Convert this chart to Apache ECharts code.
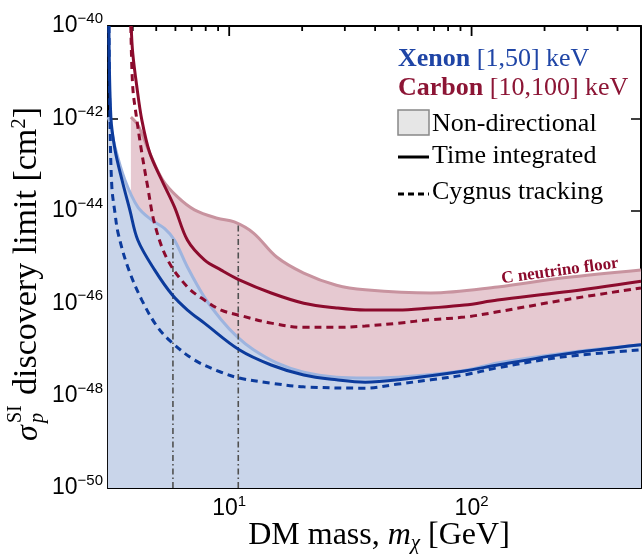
<!DOCTYPE html>
<html>
<head>
<meta charset="utf-8">
<script src="https://cdn.jsdelivr.net/npm/echarts@6/dist/echarts.min.js"></script>
<style>
html,body{margin:0;padding:0;background:#fff;}
#c{width:644px;height:554px;}
</style>
</head>
<body>
<div id="c"></div>
<script>
// ---------------- data (mass in GeV, cross section in cm^2) ----------------
const xeFloorMass  = [3.16,3.22,3.38,3.71,4.20,4.79,5.42,5.95,6.73,7.90,9.27,10.8,12.6,15.7,20.3,27.7,36.4,49.8,93.5,128,240,500];
const xeFloorSigma = [1.07e-42,8.3e-43,2.4e-43,4.7e-44,1.2e-44,6.3e-45,4.1e-45,2.3e-45,6.0e-46,1.35e-46,4.4e-47,1.86e-47,9.8e-48,5.1e-48,3.2e-48,2.5e-48,2.4e-48,2.5e-48,3.5e-48,5.1e-48,8.3e-48,1.26e-47];

const cFloorMass  = [3.93,4.20,4.70,5.31,6.12,7.19,8.93,10.5,12.6,15.7,20.3,27.7,36.4,67.9,128,240,500];
const cFloorSigma = [1.07e-42,7.2e-43,1.8e-43,4.7e-44,2.0e-44,1.05e-44,6.9e-45,5.75e-45,3.3e-45,1.0e-45,4.5e-46,2.45e-46,1.95e-46,1.66e-46,2.24e-46,3.55e-46,5.25e-46];

const cTimeMass  = [3.94,4.00,4.16,4.36,4.70,5.26,5.95,6.73,7.90,9.27,11.0,14.9,20.3,27.7,36.4,49.8,67.9,93.5,128,240,500];
const cTimeSigma = [1e-40,2.6e-41,4.8e-42,9.3e-43,1.8e-43,4.7e-44,1.2e-44,2.3e-45,8.7e-46,5.2e-46,3.2e-46,1.66e-46,1.0e-46,7.9e-47,7.1e-47,7.1e-47,7.9e-47,9.1e-47,1.17e-46,1.74e-46,3.0e-46];

const cCygMass  = [3.93,4.00,4.16,4.36,4.61,4.93,5.57,6.73,7.90,9.27,11.0,14.9,20.3,27.7,36.4,49.8,67.9,93.5,128,240,500];
const cCygSigma = [1e-40,4.8e-42,9.3e-43,1.8e-43,3.3e-44,5.1e-45,8.7e-46,2.24e-46,1.17e-46,7.1e-47,5.5e-47,3.7e-47,3.0e-47,3.0e-47,3.2e-47,3.7e-47,4.4e-47,5.0e-47,6.5e-47,1.17e-46,2.14e-46];

const xeTimeMass  = [3.19,3.25,3.38,3.61,3.89,4.20,4.93,5.83,6.73,7.90,11.0,14.9,20.3,27.7,36.4,49.8,93.5,128,240,500];
const xeTimeSigma = [1e-40,1.07e-42,2.1e-43,4.7e-44,1.05e-44,2.3e-45,5.2e-46,1.5e-46,7.1e-47,3.7e-47,9.8e-48,4.6e-48,2.8e-48,2.2e-48,1.95e-48,2.2e-48,3.4e-48,4.6e-48,7.9e-48,1.26e-47];

const xeCygMass  = [3.19,3.22,3.28,3.38,3.48,3.82,4.36,5.07,5.83,7.19,9.27,11.0,14.9,20.3,36.4,49.8,67.9,93.5,128,240,500];
const xeCygSigma = [1e-40,1.07e-42,3.3e-44,8.9e-45,3.3e-45,6.0e-46,1.17e-46,3.0e-47,1.38e-47,5.9e-48,3.2e-48,2.4e-48,1.86e-48,1.55e-48,1.45e-48,1.78e-48,2.2e-48,2.8e-48,4.0e-48,6.9e-48,9.8e-48];

const b8Mass = [5.86, 10.9];
const b8Top  = [2.6e-45, 4.9e-45];

const xMinMass = 3.1623, xMaxMass = 500;
const yMinSigma = 1e-50, yMaxSigma = 1e-40;
const xMajorTickMasses = [10, 100];
const xMinorTickMasses = [4,5,6,7,8,9,20,30,40,50,60,70,80,90,200,300,400];

// ---------------- helpers ----------------
const L = Math.log10;
function pts(ms, ss){ return ms.map((m,i)=>[L(m), L(ss[i])]); }
const X0 = L(xMinMass), X1 = L(xMaxMass), Y0 = L(yMinSigma), Y1 = L(yMaxSigma);

const C = {
  xeDark:'#0c3b9c', xeLine:'#9db4df', xeFill:'#c9d5ea',
  cDark:'#8c0b2d', cLine:'#c8939f', cFill:'#e6c9d1'
};
const SERIF = '"Liberation Serif","Times New Roman",serif';
const SANS = '"Liberation Sans",Arial,Helvetica,sans-serif';
const SMOOTH = 0.35;

const chart = echarts.init(document.getElementById('c'), null, {renderer:'canvas'});
const axisLineStyle = {color:'#000', width:2};
function curve(name, ms, ss, color, dashed){
  return {type:'line', name:name, data:pts(ms,ss), smooth:SMOOTH, showSymbol:false, symbol:'none', z:4,
    lineStyle:{color:color, width:3, type: dashed ? [7,5] : 'solid'}};
}
const txt = (o)=>Object.assign({align:'left', verticalAlign:'middle', textAlign:'left', textVerticalAlign:'middle'}, o);

const labelGraphics = [
  // x axis title
  {type:'text', x:379, y:536, style:txt({
    text:'{t|DM mass, }{i|m}{sub|\u03c7}{t| [GeV]}', align:'center', textAlign:'center',
    rich:{t:{fontFamily:SERIF,fontSize:32,fill:'#000'},
          i:{fontFamily:SERIF,fontStyle:'italic',fontSize:32,fill:'#000'},
          sub:{fontFamily:SERIF,fontStyle:'italic',fontSize:21,fill:'#000',padding:[15,0,0,0]}}
  })},
  // y axis title (rotated group)
  {type:'group', x:29, y:441, rotation:Math.PI/2, children:[
    {type:'text', x:0, y:0, style:txt({text:'\u03c3', font:'italic 32px '+SERIF, fill:'#000'})},
    {type:'text', x:18, y:-13, style:txt({text:'SI', font:'20px '+SERIF, fill:'#000'})},
    {type:'text', x:18, y:9, style:txt({text:'p', font:'italic 20px '+SERIF, fill:'#000'})},
    {type:'text', x:46, y:-2, style:txt({text:'{t|discovery limit [cm}{s|2}{t|]}',
      rich:{t:{fontFamily:SERIF,fontSize:34,fill:'#000'}, s:{fontFamily:SERIF,fontSize:21,fill:'#000',padding:[0,0,15,0]}}})}
  ]},
  // 8B label
  {type:'text', x:194, y:458, style:txt({text:'{s|8}{b|B}',
    rich:{s:{fontFamily:SERIF,fontSize:13,fill:'#777',padding:[0,0,10,0]}, b:{fontFamily:SERIF,fontSize:21,fill:'#777'}}})},
  // floor labels
  {type:'text', x:560, y:271, rotation:0.133, style:txt({text:'C neutrino floor', font:'bold 17px '+SERIF, fill:C.cDark, align:'center', textAlign:'center'})},
  {type:'text', x:565, y:345, rotation:0.162, style:txt({text:'Xe neutrino floor', font:'bold 17px '+SERIF, fill:'#2b4fa8', align:'center', textAlign:'center'})},
  // legend
  {type:'text', x:398, y:59, style:txt({text:'{b|Xenon}{r| [1,50] keV}',
    rich:{b:{fontFamily:SERIF,fontWeight:'bold',fontSize:26,fill:'#1f45a6'}, r:{fontFamily:SERIF,fontSize:26,fill:'#1f45a6'}}})},
  {type:'text', x:398, y:88, style:txt({text:'{b|Carbon}{r| [10,100] keV}',
    rich:{b:{fontFamily:SERIF,fontWeight:'bold',fontSize:26,fill:'#8c1535'}, r:{fontFamily:SERIF,fontSize:26,fill:'#8c1535'}}})},
  {type:'rect', shape:{x:398, y:110, width:31, height:25}, style:{fill:'#e6e6e6', stroke:'#888', lineWidth:1.5}},
  {type:'text', x:432, y:124, style:txt({text:'Non-directional', font:'26px '+SERIF, fill:'#000'})},
  {type:'line', shape:{x1:398, y1:157, x2:429, y2:157}, style:{stroke:'#000', lineWidth:3}},
  {type:'text', x:432, y:156, style:txt({text:'Time integrated', font:'26px '+SERIF, fill:'#000'})},
  {type:'line', shape:{x1:398, y1:194, x2:429, y2:194}, style:{stroke:'#000', lineWidth:3, lineDash:[6,4]}},
  {type:'text', x:432, y:192, style:txt({text:'Cygnus tracking', font:'26px '+SERIF, fill:'#000'})}
];

const option = {
  animation:false,
  grid:{left:108, top:26, width:537, height:462, containLabel:false},
  xAxis:[{
    type:'value', min:X0, max:X1, interval:0.5, position:'bottom',
    axisLine:{show:true, onZero:false, lineStyle:axisLineStyle},
    axisTick:{show:false}, splitLine:{show:false},
    axisLabel:{
      margin:6, color:'#000',
      formatter:function(v){
        if (Math.abs(v-Math.round(v))<1e-6 && v>0.9) return '{b|10}{s|'+Math.round(v)+'}';
        return '';
      },
      rich:{b:{fontFamily:SANS,fontSize:23,color:'#000'}, s:{fontFamily:SANS,fontSize:15,color:'#000',padding:[0,0,14,0]}}
    }
  },{
    type:'value', min:X0, max:X1, position:'top',
    axisLine:{show:true, onZero:false, lineStyle:axisLineStyle},
    axisTick:{show:false}, axisLabel:{show:false}, splitLine:{show:false}
  }],
  yAxis:[{
    type:'value', min:Y0, max:Y1, interval:2, position:'left',
    axisLine:{show:true, onZero:false, lineStyle:axisLineStyle},
    axisTick:{show:true, inside:true, length:10, lineStyle:{color:'#000', width:1.5}},
    splitLine:{show:false},
    axisLabel:{
      margin:5, color:'#000',
      formatter:function(v){ return '{b|10}{s|\u2212'+Math.round(-v)+'}'; },
      rich:{b:{fontFamily:SANS,fontSize:23,color:'#000'}, s:{fontFamily:SANS,fontSize:15,color:'#000',padding:[0,0,14,0]}}
    }
  },{
    type:'value', min:Y0, max:Y1, interval:2, position:'right',
    axisLine:{show:true, onZero:false, lineStyle:axisLineStyle},
    axisTick:{show:true, inside:true, length:10, lineStyle:{color:'#000', width:1.5}},
    axisLabel:{show:false}, splitLine:{show:false}
  }],
  series:[
    { // C non-directional region
      type:'line', name:'cFloor', data:pts(cFloorMass,cFloorSigma), smooth:SMOOTH,
      showSymbol:false, symbol:'none', z:1,
      lineStyle:{color:C.cLine, width:3}, areaStyle:{color:C.cFill, opacity:1, origin:'start'}
    },
    { // Xe non-directional region
      type:'line', name:'xeFloor', data:pts(xeFloorMass,xeFloorSigma), smooth:SMOOTH,
      showSymbol:false, symbol:'none', z:2,
      lineStyle:{color:C.xeLine, width:3}, areaStyle:{color:C.xeFill, opacity:1, origin:'start'}
    },
    { // 8B lines
      type:'line', data:[[L(b8Mass[0]),Y0],[L(b8Mass[0]),L(b8Top[0])]], showSymbol:false, symbol:'none', z:3,
      lineStyle:{color:'#505050', width:1.6, type:[6,3,1.5,3]}
    },
    {
      type:'line', data:[[L(b8Mass[1]),Y0],[L(b8Mass[1]),L(b8Top[1])]], showSymbol:false, symbol:'none', z:3,
      lineStyle:{color:'#505050', width:1.6, type:[6,3,1.5,3]}
    },
    curve('cCyg', cCygMass, cCygSigma, C.cDark, true),
    curve('cTime', cTimeMass, cTimeSigma, C.cDark, false),
    curve('xeCyg', xeCygMass, xeCygSigma, C.xeDark, true),
    curve('xeTime', xeTimeMass, xeTimeSigma, C.xeDark, false)
  ]
};
// first pass: no graphic component, so pixel conversion is available
chart.setOption(option);

// x-axis ticks (inward, bottom and top), positioned through the axis scale
const tickGraphics = [];
const yBot = chart.convertToPixel({yAxisIndex:0}, Y0);
const yTop = chart.convertToPixel({yAxisIndex:0}, Y1);
function addTicks(masses, len){
  masses.forEach(function(m){
    const px = chart.convertToPixel({xAxisIndex:0}, L(m));
    tickGraphics.push({type:'line', shape:{x1:px, y1:yBot, x2:px, y2:yBot-len}, style:{stroke:'#000', lineWidth:1.8}});
    tickGraphics.push({type:'line', shape:{x1:px, y1:yTop, x2:px, y2:yTop+len}, style:{stroke:'#000', lineWidth:1.8}});
  });
}
addTicks(xMajorTickMasses, 10);
addTicks(xMinorTickMasses, 5);

// second pass: all annotations in one graphic setOption
chart.setOption({graphic: tickGraphics.concat(labelGraphics)});
</script>
</body>
</html>
